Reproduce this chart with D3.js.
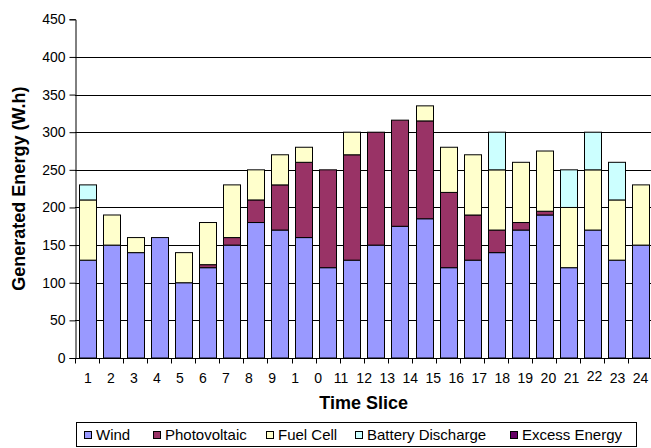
<!DOCTYPE html>
<html>
<head>
<meta charset="utf-8">
<script src="https://cdn.jsdelivr.net/npm/d3@7"></script>
<style>
  html, body { margin: 0; padding: 0; background: #fff; }
  svg { display: block; font-family: "Liberation Sans", Arial, sans-serif; }
</style>
</head>
<body>
<svg id="chart" width="651" height="448"></svg>
<script>
// ---- data ----
const slices = d3.range(1, 25);
const seriesNames = ["Wind", "Photovoltaic", "Fuel Cell", "Battery Discharge", "Excess Energy"];
const wind         = [130,150,140,160,100,120,150,180,170,160,120,130,150,175,185,120,130,140,170,190,120,170,130,150];
const photovoltaic = [  0,  0,  0,  0,  0,  4, 10, 30, 60,100,130,140,150,141,130,100, 60, 30, 10,  5,  0,  0,  0,  0];
const fuelCell     = [ 80, 40, 20,  0, 40, 56, 70, 40, 40, 20,  0, 30,  0,  0, 20, 60, 80, 80, 80, 80, 80, 80, 80, 80];
const battery      = [ 20,  0,  0,  0,  0,  0,  0,  0,  0,  0,  0,  0,  0,  0,  0,  0,  0, 50,  0,  0, 50, 50, 50,  0];
const excess       = [  0,  0,  0,  0,  0,  0,  0,  0,  0,  0,  0,  0,  0,  0,  0,  0,  0,  0,  0,  0,  0,  0,  0,  0];
const xTickLabels  = ["1","2","3","4","5","6","7","8","9","1","0","11","12","13","14","15","16","17","18","19","20","21","22","23","24"];
const yTicks       = [0,50,100,150,200,250,300,350,400,450];
const colors       = ["#9999FF", "#993366", "#FFFFCC", "#CCFFFF", "#660066"];
const yTitle = "Generated Energy (W.h)";
const xTitle = "Time Slice";

const rows = slices.map((s, i) => ({
  slice: s,
  "Wind": wind[i],
  "Photovoltaic": photovoltaic[i],
  "Fuel Cell": fuelCell[i],
  "Battery Discharge": battery[i],
  "Excess Energy": excess[i]
}));

const svg = d3.select("#chart");
const pLeft = 75, pRight = 652.4, pTop = 19.3, pBottom = 358;

const x = d3.scaleBand().domain(slices).range([pLeft, pRight]).paddingInner(0.31).paddingOuter(0.155);
const y = d3.scaleLinear().domain([0, 450]).range([pBottom, pTop]);
const color = d3.scaleOrdinal().domain(seriesNames).range(colors);
const crisp = v => Math.round(v) + 0.5;

// gridlines
svg.append("g")
  .selectAll("line")
  .data(yTicks.filter(t => t > 0 && t < 450))
  .join("line")
  .attr("x1", pLeft).attr("x2", 651)
  .attr("y1", d => crisp(y(d))).attr("y2", d => crisp(y(d)))
  .attr("stroke", "#000").attr("stroke-width", 1);

// bars
const stacked = d3.stack().keys(seriesNames)(rows);
svg.append("g")
  .selectAll("g")
  .data(stacked)
  .join("g")
  .attr("fill", d => color(d.key))
  .selectAll("rect")
  .data(d => d.filter(p => p[1] - p[0] > 0))
  .join("rect")
  .attr("x", d => Math.round(x(d.data.slice)) + 0.5)
  .attr("width", Math.round(x.bandwidth()))
  .attr("y", d => y(d[1]))
  .attr("height", d => y(d[0]) - y(d[1]))
  .attr("stroke", "#000").attr("stroke-width", 1);

// y axis
const yAxis = d3.axisLeft(y).tickValues(yTicks).tickSize(6).tickPadding(4).tickFormat(d3.format("d"));
const gy = svg.append("g").attr("transform", `translate(${crisp(pLeft)},0)`).call(yAxis);
gy.select(".domain").attr("stroke", "#000");
gy.selectAll(".tick line").attr("stroke", "#000");
gy.selectAll("text").attr("font-size", 14).attr("fill", "#000").attr("font-family", "Liberation Sans, Arial, sans-serif");

// x axis: ticks at band boundaries
const boundaries = d3.range(0, 25).map(i => pLeft + i * (pRight - pLeft) / 24);
const gx = svg.append("g");
gx.append("line").attr("x1", pLeft).attr("x2", 651).attr("y1", crisp(pBottom)).attr("y2", crisp(pBottom)).attr("stroke", "#000");
gx.selectAll("line.tk").data(boundaries).join("line").attr("class", "tk")
  .attr("x1", d => crisp(d)).attr("x2", d => crisp(d))
  .attr("y1", crisp(pBottom)).attr("y2", crisp(pBottom) + 5)
  .attr("stroke", "#000");

// x tick labels (25 labels spread evenly)
const xl = d3.scalePoint().domain(d3.range(xTickLabels.length)).range([87.3, 640]);
const xAxisLabels = d3.axisBottom(xl).tickSize(0).tickPadding(0).tickFormat(i => xTickLabels[i]);
const gxl = svg.append("g").attr("transform", `translate(0,${pBottom + 15})`).call(xAxisLabels);
gxl.select(".domain").remove();
gxl.selectAll("text").attr("font-size", 14).attr("fill", "#000").attr("font-family", "Liberation Sans, Arial, sans-serif")
  .attr("dy", (i) => xTickLabels[i] === "22" ? "0.58em" : "0.71em");

// axis titles
svg.append("text")
  .attr("transform", `translate(25,${(pTop + pBottom) / 2}) rotate(-90)`)
  .attr("text-anchor", "middle")
  .attr("font-size", 18).attr("font-weight", "bold")
  .text(yTitle);
svg.append("text")
  .attr("x", (pLeft + pRight) / 2).attr("y", 409)
  .attr("text-anchor", "middle")
  .attr("font-size", 18).attr("font-weight", "bold")
  .text(xTitle);

// legend
const legend = svg.append("g");
legend.append("rect").attr("x", 76.5).attr("y", 422.5).attr("width", 560).attr("height", 24)
  .attr("fill", "#fff").attr("stroke", "#000");
const legendX = [84, 153, 266, 355, 510];
const items = legend.selectAll("g.item").data(seriesNames).join("g").attr("class", "item")
  .attr("transform", (d, i) => `translate(${legendX[i]},0)`);
items.append("rect").attr("x", 0.5).attr("y", 431.5).attr("width", 7).attr("height", 7)
  .attr("fill", d => color(d)).attr("stroke", "#000");
items.append("text").attr("x", 12).attr("y", 440).attr("font-size", 15).text(d => d);
</script>
</body>
</html>
